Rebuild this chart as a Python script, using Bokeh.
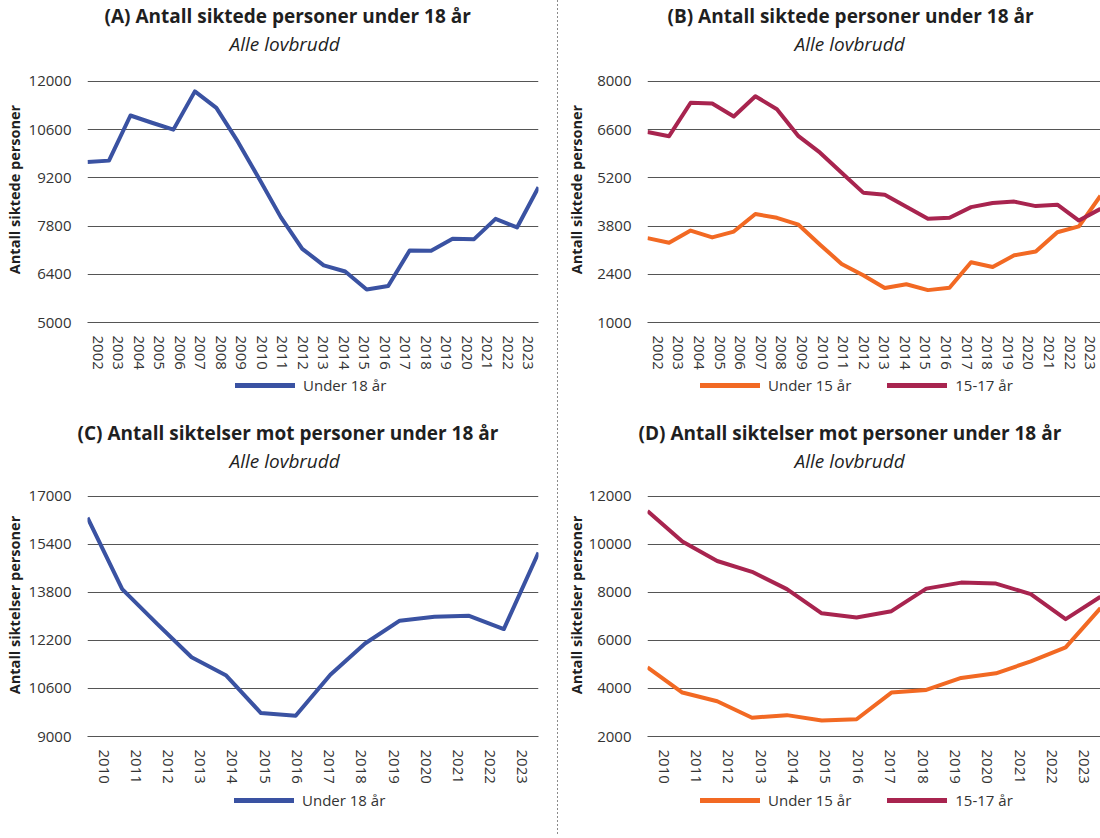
from bokeh.plotting import figure
from bokeh.models import Range1d, FixedTicker, Legend, LegendItem, Div, Title
from bokeh.layouts import row, column
from bokeh.embed import file_html
from bokeh.resources import INLINE

# ---- data ----
years_ab = [str(y) for y in range(2002, 2024)]
years_cd = [str(y) for y in range(2010, 2024)]

a_under18 = [9660, 9700, 11010, 10800, 10600, 11710, 11230, 10250, 9170, 8060, 7140,
             6660, 6480, 5960, 6060, 7090, 7080, 7430, 7420, 8010, 7760, 8930]
b_under15 = [3450, 3315, 3670, 3470, 3640, 4150, 4040, 3840, 3260, 2700, 2370,
             2000, 2110, 1940, 2010, 2750, 2610, 2950, 3060, 3620, 3790, 4680]
b_15_17 = [6530, 6410, 7380, 7360, 6980, 7570, 7190, 6410, 5930, 5350, 4770,
           4710, 4360, 4010, 4040, 4350, 4470, 4510, 4380, 4420, 3960, 4300]
c_under18 = [16290, 13910, 12760, 11640, 11030, 9780, 9690, 11060, 12100, 12860,
             12990, 13020, 12580, 15130]
d_under15 = [4880, 3830, 3470, 2780, 2890, 2670, 2720, 3830, 3940, 4440, 4630,
             5130, 5710, 7350]
d_15_17 = [11390, 10120, 9310, 8860, 8140, 7130, 6960, 7220, 8160, 8410, 8370,
           7930, 6890, 7820]

a_ticks = [5000, 6400, 7800, 9200, 10600, 12000]
b_ticks = [1000, 2400, 3800, 5200, 6600, 8000]
c_ticks = [9000, 10600, 12200, 13800, 15400, 17000]
d_ticks = [2000, 4000, 6000, 8000, 10000, 12000]

titles = ["(A) Antall siktede personer under 18 år",
          "(B) Antall siktede personer under 18 år",
          "(C) Antall siktelser mot personer under 18 år",
          "(D) Antall siktelser mot personer under 18 år"]
subtitle = "Alle lovbrudd"
ylabels = ["Antall siktede personer", "Antall siktelser personer"]

BLUE = "#3A52A2"
ORANGE = "#F26923"
MAROON = "#A8244F"
FONT = "Open Sans"
TXT = "#333333"
DARK = "#1f1f1f"
GRID = "#555555"


def legend_fig(width, height, series, lx, ly, spacing):
    f = figure(width=width, height=height, output_backend="svg", toolbar_location=None,
               x_range=Range1d(0, 1), y_range=Range1d(0, 1), min_border=0,
               x_axis_type=None, y_axis_type=None)
    f.outline_line_color = None
    f.grid.visible = False
    items = []
    for label, vals, color in series:
        # drawn outside this small frame: only its legend entry shows
        r = f.line(list(range(len(vals))), vals, line_color=color, line_width=5,
                   line_cap="round")
        items.append(LegendItem(label=label, renderers=[r]))
    leg = Legend(items=items, orientation="horizontal", location=(lx, ly),
                 border_line_color=None, background_fill_alpha=0,
                 glyph_width=60, glyph_height=20, label_standoff=8, spacing=spacing,
                 padding=0, margin=0, label_text_font=FONT,
                 label_text_font_size="15px", label_text_color=TXT)
    f.add_layout(leg, "center")
    return f


def main_plot(width, height, years, series, yticks, ylabel, title, title_dx, sub_dx,
              frame_left, pad_right, pad_top, pad_bottom, ylabel_standoff,
              grid_px, top_gap_px):
    n = len(years)
    xs = [2 * n * i for i in range(n)]
    tick_pos = [(2 * i + 1) * (n - 1) for i in range(n)]
    span = yticks[-1] - yticks[0]
    # empty band above the top gridline leaves room between chart and subtitle
    y_top = yticks[-1] + span * top_gap_px / grid_px
    p = figure(width=width, height=height, output_backend="svg", toolbar_location=None,
               x_range=Range1d(0, xs[-1]), y_range=Range1d(yticks[0], y_top),
               title=None, min_border_left=frame_left, min_border_right=pad_right,
               min_border_top=pad_top, min_border_bottom=pad_bottom)
    p.outline_line_color = None
    p.background_fill_color = "white"
    p.border_fill_color = "white"

    p.add_layout(Title(text=subtitle, align="left", offset=sub_dx, standoff=0,
                       text_font=FONT, text_font_size="19px", text_font_style="italic",
                       text_color=DARK), "above")
    p.add_layout(Title(text=title, align="left", offset=title_dx, standoff=0,
                       text_font=FONT, text_font_size="19px", text_font_style="bold",
                       text_color=DARK), "above")

    p.xgrid.grid_line_color = None
    p.ygrid.grid_line_color = GRID
    p.ygrid.grid_line_width = 1

    p.yaxis.ticker = FixedTicker(ticks=yticks)
    p.yaxis.axis_line_color = None
    p.yaxis.major_tick_line_color = None
    p.yaxis.minor_tick_line_color = None
    p.yaxis.major_label_standoff = 10
    p.yaxis.major_label_text_font = FONT
    p.yaxis.major_label_text_font_size = "15px"
    p.yaxis.major_label_text_color = TXT
    p.yaxis.axis_label = ylabel
    p.yaxis.axis_label_text_font = FONT
    p.yaxis.axis_label_text_font_size = "14.5px"
    p.yaxis.axis_label_text_font_style = "bold"
    p.yaxis.axis_label_text_color = DARK
    p.yaxis.axis_label_standoff = ylabel_standoff

    p.xaxis.ticker = FixedTicker(ticks=tick_pos)
    p.xaxis.major_label_overrides = {t: y for t, y in zip(tick_pos, years)}
    p.xaxis.major_label_orientation = "vertical"
    p.xaxis.axis_line_color = GRID
    p.xaxis.major_tick_line_color = None
    p.xaxis.minor_tick_line_color = None
    p.xaxis.major_label_standoff = 7
    p.xaxis.major_label_text_font = FONT
    p.xaxis.major_label_text_font_size = "15px"
    p.xaxis.major_label_text_color = TXT

    for label, vals, color in series:
        p.line(xs, vals, line_color=color, line_width=4, line_join="round")
    return p


ser_a = [("Under 18 år", a_under18, BLUE)]
ser_b = [("Under 15 år", b_under15, ORANGE), ("15-17 år", b_15_17, MAROON)]
ser_c = [("Under 18 år", c_under18, BLUE)]
ser_d = [("Under 15 år", d_under15, ORANGE), ("15-17 år", d_15_17, MAROON)]

WL, WR = 557, 542
FL_L, PR_L = 87, 19
FL_R, PR_R = 89, 0

left = column(
    main_plot(WL, 373, years_ab, ser_a, a_ticks, ylabels[0], titles[0], 17, 142,
              FL_L, PR_L, 55, 51, 2, 242, 25),
    legend_fig(WL, 44, ser_a, 148, 22, 36),
    main_plot(WL, 370, years_cd, ser_c, c_ticks, ylabels[1], titles[2], -10, 142,
              FL_L, PR_L, 50, 51, 2, 241, 23),
    legend_fig(WL, 49, ser_c, 147, 26, 36),
    spacing=0)

right = column(
    main_plot(WR, 373, years_ab, ser_b, b_ticks, ylabels[0], titles[1], 20, 147,
              FL_R, PR_R, 55, 51, 8, 242, 25),
    legend_fig(WR, 44, ser_b, 53, 22, 36),
    main_plot(WR, 370, years_cd, ser_d, d_ticks, ylabels[1], titles[3], -9, 147,
              FL_R, PR_R, 50, 51, 0, 241, 23),
    legend_fig(WR, 49, ser_d, 53, 26, 36),
    spacing=0)

sep = Div(text="", width=1, height=836, margin=0,
          styles={"background-image": "linear-gradient(to bottom, #8a8a8a 50%, rgba(255,255,255,0) 50%)",
                  "background-size": "1px 4px", "background-repeat": "repeat-y"})

layout = row(left, sep, right, spacing=0)

open("out.html", "w").write(file_html(layout, INLINE))
